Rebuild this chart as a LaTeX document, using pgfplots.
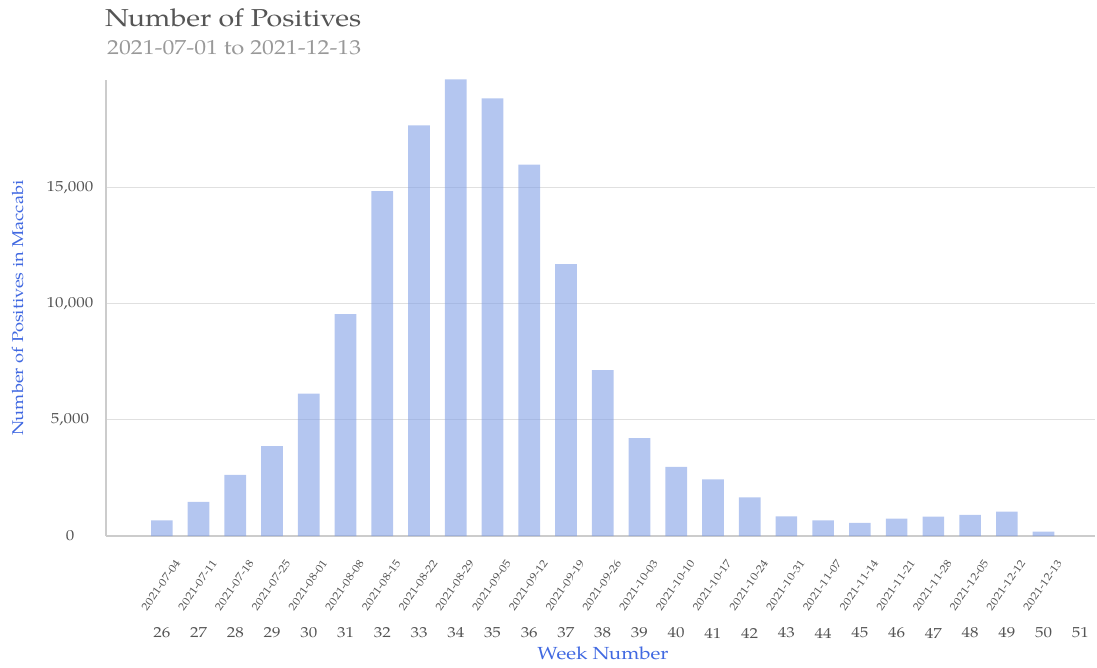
\documentclass[border=0pt]{standalone}
\usepackage{fontspec}
\setmainfont{TeX Gyre Pagella}[FakeStretch=1.17]
\usepackage{pgfplots}
\pgfplotsset{compat=1.18}

\definecolor{barblue}{HTML}{82A0E6}
\definecolor{labelblue}{HTML}{4169E1}
\definecolor{textgray}{HTML}{555555}
\definecolor{subgray}{HTML}{999999}
\definecolor{gridgray}{HTML}{E0E0E0}
\definecolor{axisgray}{HTML}{CCCCCC}

\begin{document}
\begin{tikzpicture}
\useasboundingbox (0,0) rectangle (1097pt,667pt);

\node[anchor=base west, text=textgray, inner sep=0pt, font=\fontsize{24.5}{28}\selectfont]
  at (105pt,640pt) {Number of Positives};
\node[anchor=base west, text=subgray, inner sep=0pt, font=\fontsize{20.3}{24}\selectfont]
  at (107pt,612pt) {2021-07-01 to 2021-12-13};

\begin{axis}[
    at={(106pt,131pt)}, anchor=south west,
    scale only axis, width=989pt, height=456pt,
    xmin=24.48, xmax=51.4,
    ymin=0, ymax=19625,
    axis lines*=left,
    axis line style={draw=axisgray, line width=1.2pt},
    major tick length=0pt,
    ymajorgrids, grid style={draw=gridgray, line width=1pt},
    xtick={26,...,51},
    ytick={0,5000,10000,15000},
    scaled y ticks=false,
    /pgf/number format/.cd, 1000 sep={,}, assume math mode=true, /pgfplots/.cd,
    tick label style={text=textgray, font=\fontsize{14.5}{16}\selectfont},
    xticklabel style={anchor=center},
    xticklabel shift=97pt,
    yticklabel style={anchor=center, xshift=-36pt},
    extra x ticks={26,...,50},
    extra x tick labels={2021-07-04,2021-07-11,2021-07-18,2021-07-25,2021-08-01,2021-08-08,2021-08-15,2021-08-22,2021-08-29,2021-09-05,2021-09-12,2021-09-19,2021-09-26,2021-10-03,2021-10-10,2021-10-17,2021-10-24,2021-10-31,2021-11-07,2021-11-14,2021-11-21,2021-11-28,2021-12-05,2021-12-12,2021-12-13},
    extra x tick style={grid=none, xticklabel shift=0pt,
      xticklabel style={xshift=18pt, yshift=-22pt, rotate=55, anchor=east,
        font=\fontsize{10.8}{12}\selectfont}},
    xlabel={Week Number},
    ylabel={Number of Positives in Maccabi},
    label style={text=labelblue},
    xlabel style={at={(axis description cs:0.5025,-0.2566)}, anchor=center,
      font=\fontsize{17.5}{20}\selectfont},
    ylabel style={at={(axis description cs:-0.0895,0.5)}, anchor=center,
      font=\fontsize{15.6}{18}\selectfont},
]
\addplot[ybar, bar width=0.59, fill=barblue, fill opacity=0.6, draw=none]
coordinates {
    (26, 676)
    (27, 1464)
    (28, 2627)
    (29, 3863)
    (30, 6132)
    (31, 9548)
    (32, 14845)
    (33, 17675)
    (34, 19650)
    (35, 18837)
    (36, 15978)
    (37, 11701)
    (38, 7136)
    (39, 4208)
    (40, 2972)
    (41, 2442)
    (42, 1667)
    (43, 848)
    (44, 676)
    (45, 560)
    (46, 749)
    (47, 835)
    (48, 904)
    (49, 1051)
    (50, 190)
};
\end{axis}
\end{tikzpicture}
\end{document}
